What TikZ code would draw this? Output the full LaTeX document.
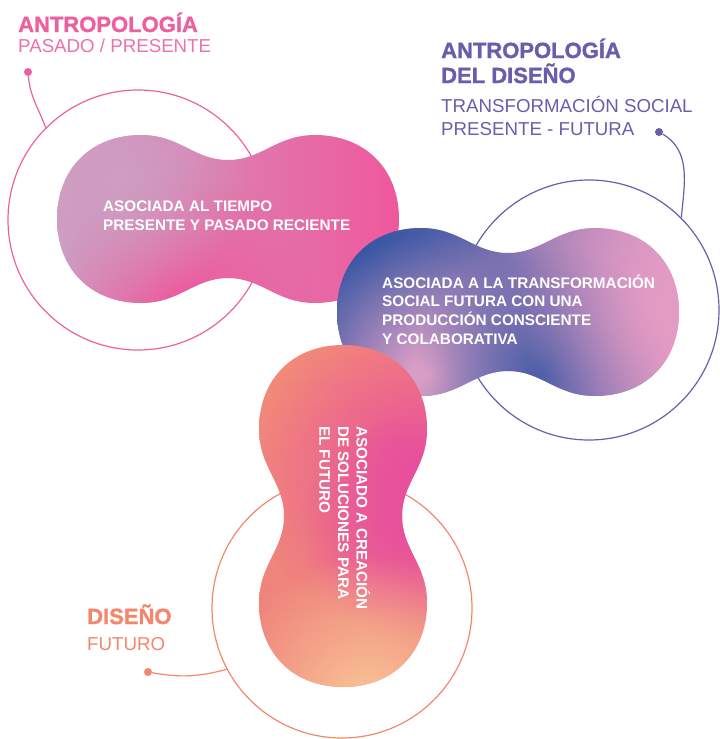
\documentclass[tikz,border=0pt]{standalone}
\usepackage{fontspec}
\setmainfont{Liberation Sans}
\newfontfamily\gruesa{Liberation Sans Bold}[FakeBold=1.4]
\usetikzlibrary{positioning,fadings}

\definecolor{rosa}{RGB}{236,96,160}
\definecolor{rosasub}{RGB}{238,112,170}
\definecolor{morado}{RGB}{108,92,172}
\definecolor{naranja}{RGB}{243,135,108}
% colores de los degradados
\definecolor{malva}{RGB}{206,158,194}
\definecolor{malvamedio}{RGB}{214,148,190}
\definecolor{fucsia}{RGB}{239,88,156}
\definecolor{azul}{RGB}{56,86,164}
\definecolor{violeta}{RGB}{132,104,170}
\definecolor{rosaclaro}{RGB}{228,156,196}
\definecolor{rosapalido}{RGB}{234,166,202}
\definecolor{azulmedio}{RGB}{70,92,168}
\definecolor{salmon}{RGB}{243,142,118}
\definecolor{salmonrosa}{RGB}{238,128,126}
\definecolor{magenta2}{RGB}{232,78,158}
\definecolor{durazno}{RGB}{250,200,150}

\tikzfading[name=mancha, inner color=transparent!0, outer color=transparent!100]

% contorno de las formas dobles (centro en el origen)
\newcommand{\formadoble}{(-171,0) .. controls (-171,50) and (-137,84) .. (-87,84)
  .. controls (-48,84) and (-34,59) .. (0,59)
  .. controls (34,59) and (48,84) .. (87,84)
  .. controls (137,84) and (171,50) .. (171,0)
  .. controls (171,-50) and (137,-84) .. (87,-84)
  .. controls (48,-84) and (34,-59) .. (0,-59)
  .. controls (-34,-59) and (-48,-84) .. (-87,-84)
  .. controls (-137,-84) and (-171,-50) .. (-171,0) -- cycle}

\begin{document}
\begin{tikzpicture}[x=1pt,y=1pt,
    ring/.style={circle,draw,line width=1.2pt,minimum size=260pt,inner sep=0pt},
    dot/.style={circle,fill,minimum size=8pt,inner sep=0pt},
    conector/.style={line width=1.2pt},
    titulo/.style={anchor=base west,inner sep=0pt,font=\fontsize{22}{26}\selectfont\gruesa},
    subtitulo/.style={anchor=base west,inner sep=0pt,font=\fontsize{18.7}{22}\selectfont},
    blobtext/.style={text=white,align=left,inner sep=0pt,anchor=north west,
                     font=\fontsize{15.3}{18.7}\selectfont\bfseries}]

  \useasboundingbox (0,0) rectangle (720,-739);

  % anillos
  \node[ring,rosa] (anillorosa) at (138,-220) {};
  \node[ring,morado] (anillomorado) at (589,-310) {};
  \node[ring,naranja] (anillonaranja) at (342,-608) {};

  % puntos y conectores
  \node[dot,rosa] (puntorosa) at (28,-72) {};
  \node[dot,morado] (puntomorado) at (659,-132) {};
  \node[dot,naranja] (puntonaranja) at (148,-672) {};

  \draw[conector,rosa] (puntorosa) to[out=-85,in=110] (anillorosa.135);
  \draw[conector,morado] (puntomorado) to[out=-30,in=85] (anillomorado.45);
  \draw[conector,naranja] (puntonaranja) to[out=-10,in=195] (anillonaranja.208);

  % forma rosa
  \begin{scope}[shift={(228,-219)}]
    \clip \formadoble;
    \shade[left color=malva,middle color=malvamedio,right color=fucsia] (-171,-84) rectangle (171,84);
    \fill[fucsia,path fading=mancha] (-42,-82) circle (130);
    \fill[malva,path fading=mancha] (-110,40) circle (130);
  \end{scope}

  % forma morada
  \begin{scope}[shift={(508,-312)}]
    \clip \formadoble;
    \shade[left color=azul,middle color=violeta,right color=rosaclaro] (-171,-84) rectangle (171,84);
    \fill[azul,path fading=mancha] (-150,50) circle (170);
    \fill[rosapalido,path fading=mancha] (-80,-62) circle (140);
    \fill[azulmedio,path fading=mancha] (36,-62) circle (130);
    \fill[rosaclaro,path fading=mancha] (160,0) circle (150);
  \end{scope}

  % forma naranja
  \begin{scope}[shift={(343,-516)}]
    \clip[rotate=90] \formadoble;
    \shade[top color=salmon,bottom color=salmonrosa] (-84,-171) rectangle (84,171);
    \fill[magenta2,path fading=mancha] (72,50) circle (170);
    \fill[magenta2,path fading=mancha] (70,-10) circle (110);
    \fill[durazno,path fading=mancha] (25,-190) circle (150);
  \end{scope}

  % textos de las formas
  \node[blobtext] (textorosa) at (103,-201) {ASOCIADA AL TIEMPO\\PRESENTE Y PASADO RECIENTE};
  \node[blobtext] (textomorado) at (382,-274.5) {ASOCIADA A LA TRANSFORMACIÓN\\SOCIAL FUTURA CON UNA\\PRODUCCIÓN CONSCIENTE\\Y COLABORATIVA};
  \node[blobtext,rotate=-90] (textonaranja) at (370.5,-426) {ASOCIADO A CREACIÓN\\DE SOLUCIONES PARA\\EL FUTURO};

  % titulos
  \node[titulo,rosa] (titrosa) at (18,-32) {ANTROPOLOGÍA};
  \node[subtitulo,rosasub] (subrosa) at (18,-52) {PASADO / PRESENTE};
  \node[titulo,morado] (titmorado) at (441,-58) {ANTROPOLOGÍA};
  \node[titulo,morado] (titmorado2) at (441,-83) {DEL DISEÑO};
  \node[subtitulo,morado] (submorado) at (441,-112) {TRANSFORMACIÓN SOCIAL};
  \node[subtitulo,morado] (submorado2) at (441,-135) {PRESENTE - FUTURA};
  \node[titulo,naranja] (titnaranja) at (87,-624) {DISEÑO};
  \node[subtitulo,naranja] (subnaranja) at (87,-650) {FUTURO};
\end{tikzpicture}
\end{document}
